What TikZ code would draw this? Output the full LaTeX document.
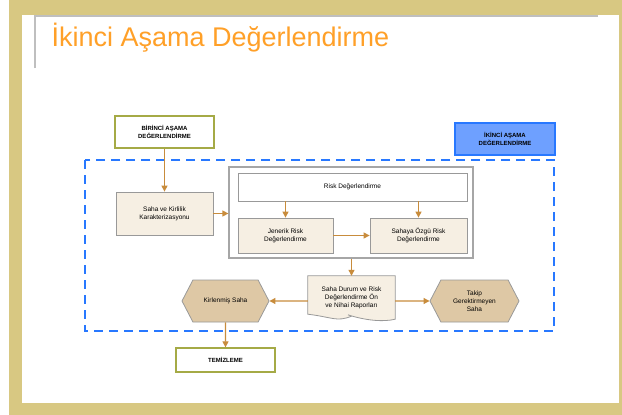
\documentclass[tikz,border=0pt]{standalone}
\usepackage{fontspec}
\setmainfont{Liberation Sans}
\usetikzlibrary{shapes.symbols,arrows.meta}
\definecolor{frametan}{RGB}{216,200,130}
\definecolor{titleorange}{RGB}{255,160,40}
\definecolor{arrowbrown}{RGB}{200,140,60}
\definecolor{olivegreen}{RGB}{165,170,70}
\definecolor{boxbeige}{RGB}{246,239,227}
\definecolor{hexfill}{RGB}{222,200,165}
\definecolor{dashblue}{RGB}{40,120,255}
\definecolor{labelblue}{RGB}{110,160,255}
\tikzset{
  stagebox/.style={draw=olivegreen,line width=1.3pt,fill=white,align=center,
    font=\fontsize{6}{7.5}\selectfont\bfseries,inner sep=1pt},
  stepbox/.style={draw=gray!80,line width=0.8pt,fill=boxbeige,align=center,
    font=\fontsize{6.5}{8}\selectfont,inner sep=1pt},
  sitebox/.style={signal,signal to=west and east,signal pointer angle=125,
    draw=gray!80,line width=0.8pt,fill=hexfill,align=center,
    font=\fontsize{6.5}{8}\selectfont,inner sep=1pt},
  flow/.style={->,draw=arrowbrown,line width=1.2pt}
}
\begin{document}
\begin{tikzpicture}[x=1pt,y=-1pt,>={Triangle[length=6pt,width=6pt]}]
    \useasboundingbox (0,0) rectangle (622,415);
    %frame and title
    \fill[frametan] (9,0) rectangle (622,415);
    \fill[white] (22,15) rectangle (619,403);
    \draw[gray!50,line width=1.5pt] (35,68) -- (35,16) -- (598,16);
    \node[anchor=west,text=titleorange,font=\fontsize{27}{30}\selectfont] (title) at (48,38) {İkinci Aşama Değerlendirme};
    %stage labels
    \node[stagebox,minimum width=99,minimum height=32] (birinci) at (164.5,132) {BİRİNCİ AŞAMA\\DEĞERLENDİRME};
    \node[stagebox,draw=dashblue,fill=labelblue,minimum width=100,minimum height=32] (ikinci) at (505,139) {İKİNCİ AŞAMA\\DEĞERLENDİRME};
    \draw[dashblue,line width=2.5pt,dash pattern=on 9pt off 6pt] (85,160) rectangle (554,331);
    %steps
    \node[stepbox,minimum width=97,minimum height=43] (saha) at (164.5,213.5) {Saha ve Kirlilik\\Karakterizasyonu};
    \node[draw=gray!70,line width=1.2pt,fill=white,minimum width=244,minimum height=91] (grp) at (351,212.5) {};
    \node[stepbox,fill=white,minimum width=229,minimum height=28] (riskdeg) at (352.5,187) {Risk Değerlendirme};
    \node[stepbox,minimum width=95,minimum height=35] (jenerik) at (285.5,235.5) {Jenerik Risk\\Değerlendirme};
    \node[stepbox,minimum width=97,minimum height=35] (sahaya) at (418.5,235.5) {Sahaya Özgü  Risk\\Değerlendirme};
    %report
    \node[inner sep=1pt,minimum width=87,minimum height=40] (rapor) at (351.5,296) {};
    \draw[gray!80,line width=0.8pt,fill=boxbeige] (rapor.north west) -- (rapor.north east) -- ([yshift=-3]rapor.south east)
        .. controls ([xshift=-25,yshift=-9]rapor.south east) and ([xshift=-15,yshift=6]rapor.south) .. (rapor.south)
        .. controls ([xshift=-15,yshift=-6]rapor.south) and ([xshift=25,yshift=-1]rapor.south west) .. ([yshift=2]rapor.south west) -- cycle;
    \node[align=center,font=\fontsize{6.5}{8}\selectfont,inner sep=1pt] (raporlabel) at ([yshift=-2]rapor) {Saha Durum ve Risk\\Değerlendirme Ön\\ve Nihai Raporları};
    %sites
    \node[sitebox,minimum width=87,minimum height=42] (kirlenmis) at (225.5,301) {Kirlenmiş Saha};
    \node[sitebox,minimum width=89,minimum height=42] (takip) at (474.5,301) {Takip\\Gerektirmeyen\\Saha};
    \node[stagebox,minimum width=99,minimum height=24] (temizleme) at (225.5,360) {TEMİZLEME};
    %arrows
    \draw[flow] (birinci) -- (saha);
    \draw[flow] (saha) -- (grp.west |- saha);
    \draw[flow] (riskdeg.south -| jenerik) -- (jenerik);
    \draw[flow] (riskdeg.south -| sahaya) -- (sahaya);
    \draw[flow] (jenerik) -- (sahaya);
    \draw[flow] (grp.south -| rapor) -- (rapor);
    \draw[flow] (rapor.west |- kirlenmis) -- (kirlenmis);
    \draw[flow] (rapor.east |- takip) -- (takip);
    \draw[flow] (kirlenmis) -- (temizleme);
\end{tikzpicture}
\end{document}
